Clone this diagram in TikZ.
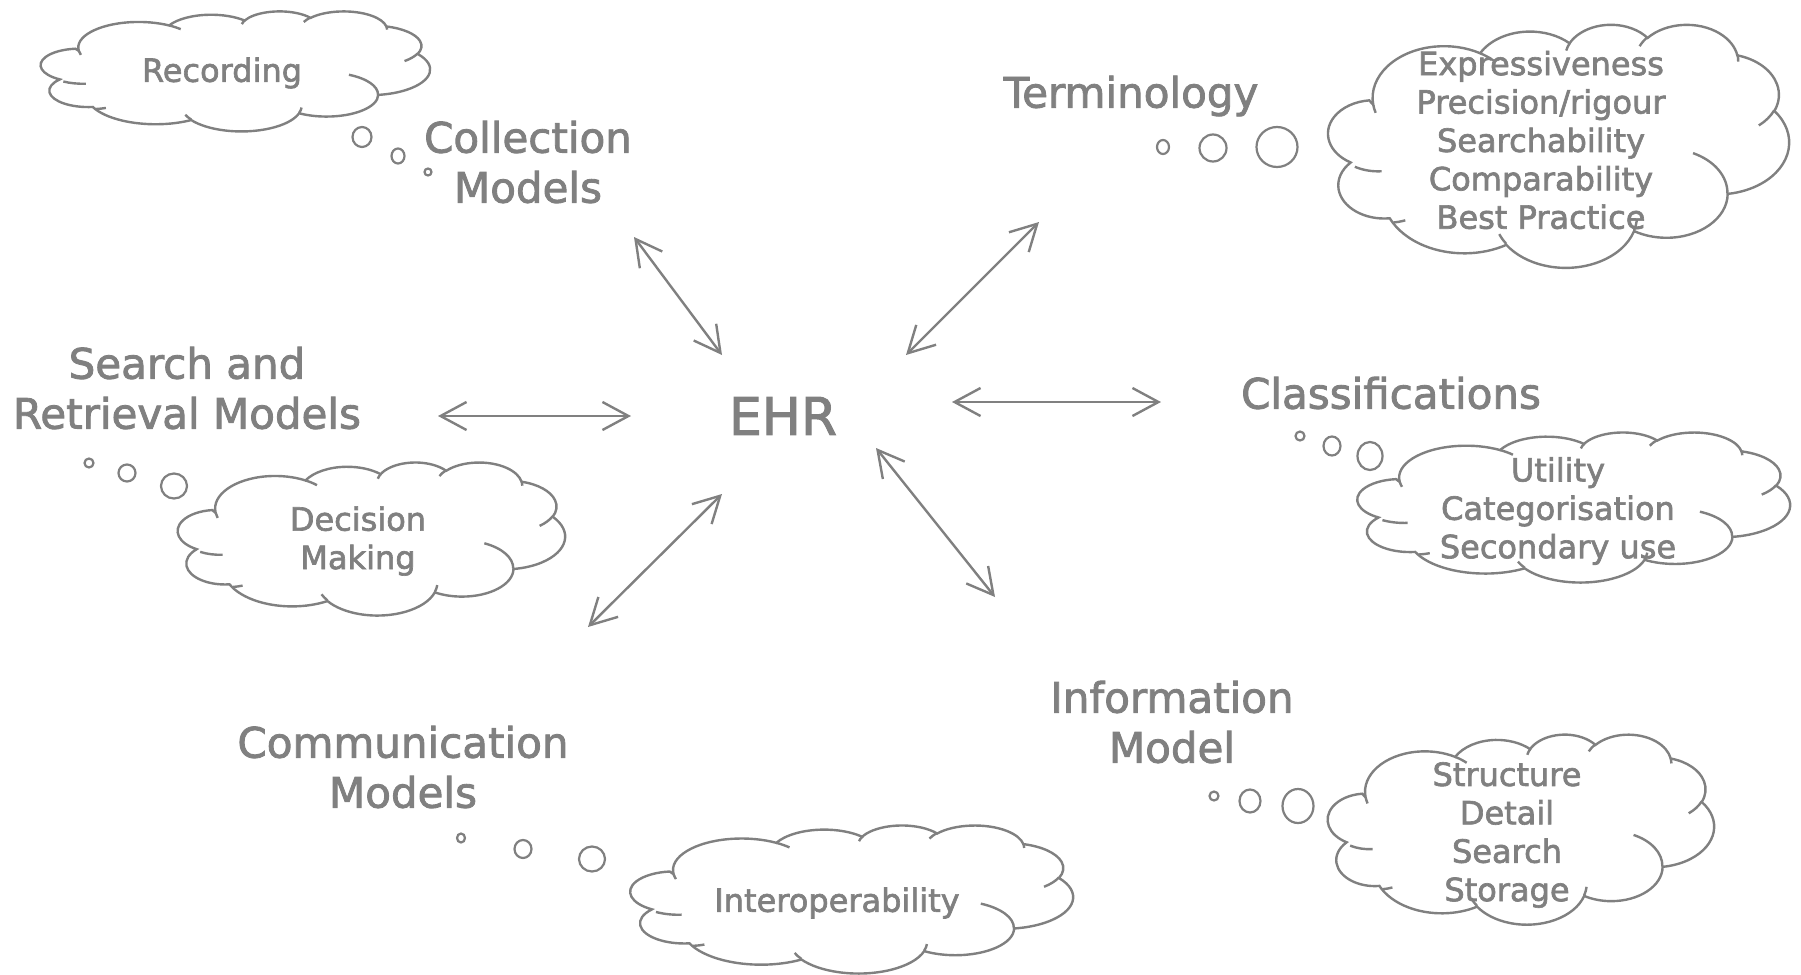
\documentclass[tikz,border=0pt]{standalone}
\usepackage{fontspec}
\setmainfont{DejaVu Sans}[FakeBold=2]
\usetikzlibrary{arrows.meta}
\definecolor{ink}{HTML}{808080}

\pgfmathdeclarefunction{ptang}{3}{%
  \begingroup
  \pgfmathparse{(#1)+mod(atan2((#2)*sin(#1),(#3)*cos(#1))-(#1)+900,360)-180}%
  \pgfmathsmuggle\pgfmathresult
  \endgroup}

\newcommand\carc[4]{arc[start angle={ptang(#1,#3,#4)}, end angle={ptang(#1+#2,#3,#4)}, x radius=#3, y radius=#4]}

\newcommand\drawcloud[4]{% x0 y0 W H (pixels)
  \pgfmathsetmacro\cwx{#3/43.2*0.5}%
  \pgfmathsetmacro\cwy{#4/43.2*0.5}%
  \begin{scope}[shift={(#1,#2)}, x=\cwx pt, y=-\cwy pt]
    \draw[cloudline, fill=white] (3.9,14.37)
      \carc{-190.4875}{123.7805}{6.753}{9.19}
      \carc{-144.1024}{89.9452}{5.333}{7.267}
      \carc{-145.8079}{99.723}{4.365}{5.945}
      \carc{-130.9861}{117.2417}{4.857}{6.595}
      \carc{-78.7089}{109.0269}{5.333}{7.273}
      \carc{-46.2673}{130.269}{6.775}{9.22}
      \carc{0.625}{114.0333}{5.785}{7.867}
      \carc{22.4516}{115.1726}{6.752}{9.215}
      \carc{66.2426}{82.2747}{7.72}{10.543}
      \carc{-274.9421}{146.7356}{4.36}{5.918}
      \carc{-246.8285}{152.5189}{4.345}{5.945}
      -- cycle;
    \draw[cloudline]
      (4.693,26.177) \carc{86.742}{26.4295}{4.345}{5.945}
      (6.928,34.899) \carc{73.6105}{11.4475}{4.36}{5.918}
      (16.478,39.09) \carc{137.6242}{14.0811}{6.752}{9.215}
      (28.827,34.751) \carc{6.4533}{15.9984}{6.752}{9.215}
      (34.129,22.954) \carc{-70.2924}{70.9174}{5.785}{7.867}
      (41.798,15.354) \carc{30.318}{27.7515}{5.333}{7.273}
      (38.324,5.426) \carc{-13.7443}{14.8589}{4.857}{6.595}
      (29.078,3.952) \carc{-149.1815}{18.1954}{4.857}{6.595}
      (22.141,4.72) \carc{-163.4943}{17.6864}{4.365}{5.945}
      (14.0,5.192) \carc{-66.707}{12.3194}{6.753}{9.19}
      (4.127,15.789) \carc{157.6544}{11.8582}{6.753}{9.19};
  \end{scope}}

\tikzset{
  lbl/.style={text=ink, font=\fontsize{21}{25}\selectfont, align=center, inner sep=0pt},
  bigl/.style={text=ink, font=\fontsize{26}{31}\selectfont, inner sep=0pt},
  ctext/.style={text=ink, font=\fontsize{16}{19.2}\selectfont, align=center, inner sep=0pt},
  cloudline/.style={draw=ink, line width=1.2pt},
  bubble/.style={draw=ink, line width=1.1pt, fill=white},
  biarrow/.style={draw=ink, line width=1.2pt,
    {Straight Barb[length=13pt,width=14pt]}-{Straight Barb[length=13pt,width=14pt]}},
}

\begin{document}
\begin{tikzpicture}[x=0.5pt, y=-0.5pt]
\useasboundingbox (0,0) rectangle (1801,975);

% clouds
\drawcloud{44}{11}{386}{120}
\drawcloud{1332}{24}{457}{243}
\drawcloud{181}{462}{384}{153}
\drawcloud{1361}{432}{429}{150}
\drawcloud{634}{825}{439}{148}
\drawcloud{1331}{734}{383}{190}

% thought bubbles
\draw[bubble] (362,137) ellipse[x radius=9.5, y radius=10];
\draw[bubble] (398,156) ellipse[x radius=6.5, y radius=7.5];
\draw[bubble] (428,172) ellipse[x radius=3.5, y radius=3.5];

\draw[bubble] (1163,147) ellipse[x radius=6, y radius=7];
\draw[bubble] (1213,148) ellipse[x radius=13.5, y radius=13.5];
\draw[bubble] (1277,147) ellipse[x radius=20.5, y radius=20];

\draw[bubble] (89,463) ellipse[x radius=4.5, y radius=4.5];
\draw[bubble] (127,473) ellipse[x radius=8.5, y radius=8.5];
\draw[bubble] (174,486) ellipse[x radius=13, y radius=12.5];

\draw[bubble] (1300,436) ellipse[x radius=4.5, y radius=4.5];
\draw[bubble] (1332,446) ellipse[x radius=8.5, y radius=9.5];
\draw[bubble] (1370,456) ellipse[x radius=12.5, y radius=14];

\draw[bubble] (461,838) ellipse[x radius=4, y radius=4.5];
\draw[bubble] (523,849) ellipse[x radius=8.5, y radius=9];
\draw[bubble] (592,859) ellipse[x radius=13, y radius=12.5];

\draw[bubble] (1214,796) ellipse[x radius=4.5, y radius=4.5];
\draw[bubble] (1250,801) ellipse[x radius=10.5, y radius=11.5];
\draw[bubble] (1298,806) ellipse[x radius=15.5, y radius=17];

% cloud texts
\node[ctext] (rec) at (222,73) {Recording};
\node[ctext] (termtxt) at (1541,140) {Expressiveness\\Precision/rigour\\Searchability\\Comparability\\Best Practice};
\node[ctext] (dec) at (358,541) {Decision\\Making};
\node[ctext] (classtxt) at (1558,511) {Utility\\Categorisation\\Secondary use};
\node[ctext] (infotxt) at (1507,835) {Structure\\Detail\\Search\\Storage};
\node[ctext] (interop) at (837,903) {Interoperability};

% labels
\node[bigl] (ehr) at (783,416) {EHR};
\node[lbl] (coll) at (528,162) {Collection\\Models};
\node[lbl] (term) at (1131,96) {Terminology};
\node[lbl] (search) at (187,388) {Search and\\Retrieval Models};
\node[lbl] (class) at (1391,393) {Classifications};
\node[lbl] (info) at (1172,722) {Information\\Model};
\node[lbl] (comm) at (403,767) {Communication\\Models};

% arrow end points
\coordinate (c1a) at (634,237);  \coordinate (c1b) at (722,355);
\coordinate (t1a) at (1039,222); \coordinate (t1b) at (906,355);
\coordinate (k1a) at (952,402);  \coordinate (k1b) at (1161,402);
\coordinate (i1a) at (876,448);  \coordinate (i1b) at (995,597);
\coordinate (m1a) at (722,494);  \coordinate (m1b) at (588,627);
\coordinate (s1a) at (438,416);  \coordinate (s1b) at (631,416);

\draw[biarrow] (c1a) -- (c1b);
\draw[biarrow] (t1a) -- (t1b);
\draw[biarrow] (k1a) -- (k1b);
\draw[biarrow] (i1a) -- (i1b);
\draw[biarrow] (m1a) -- (m1b);
\draw[biarrow] (s1a) -- (s1b);
\end{tikzpicture}
\end{document}
